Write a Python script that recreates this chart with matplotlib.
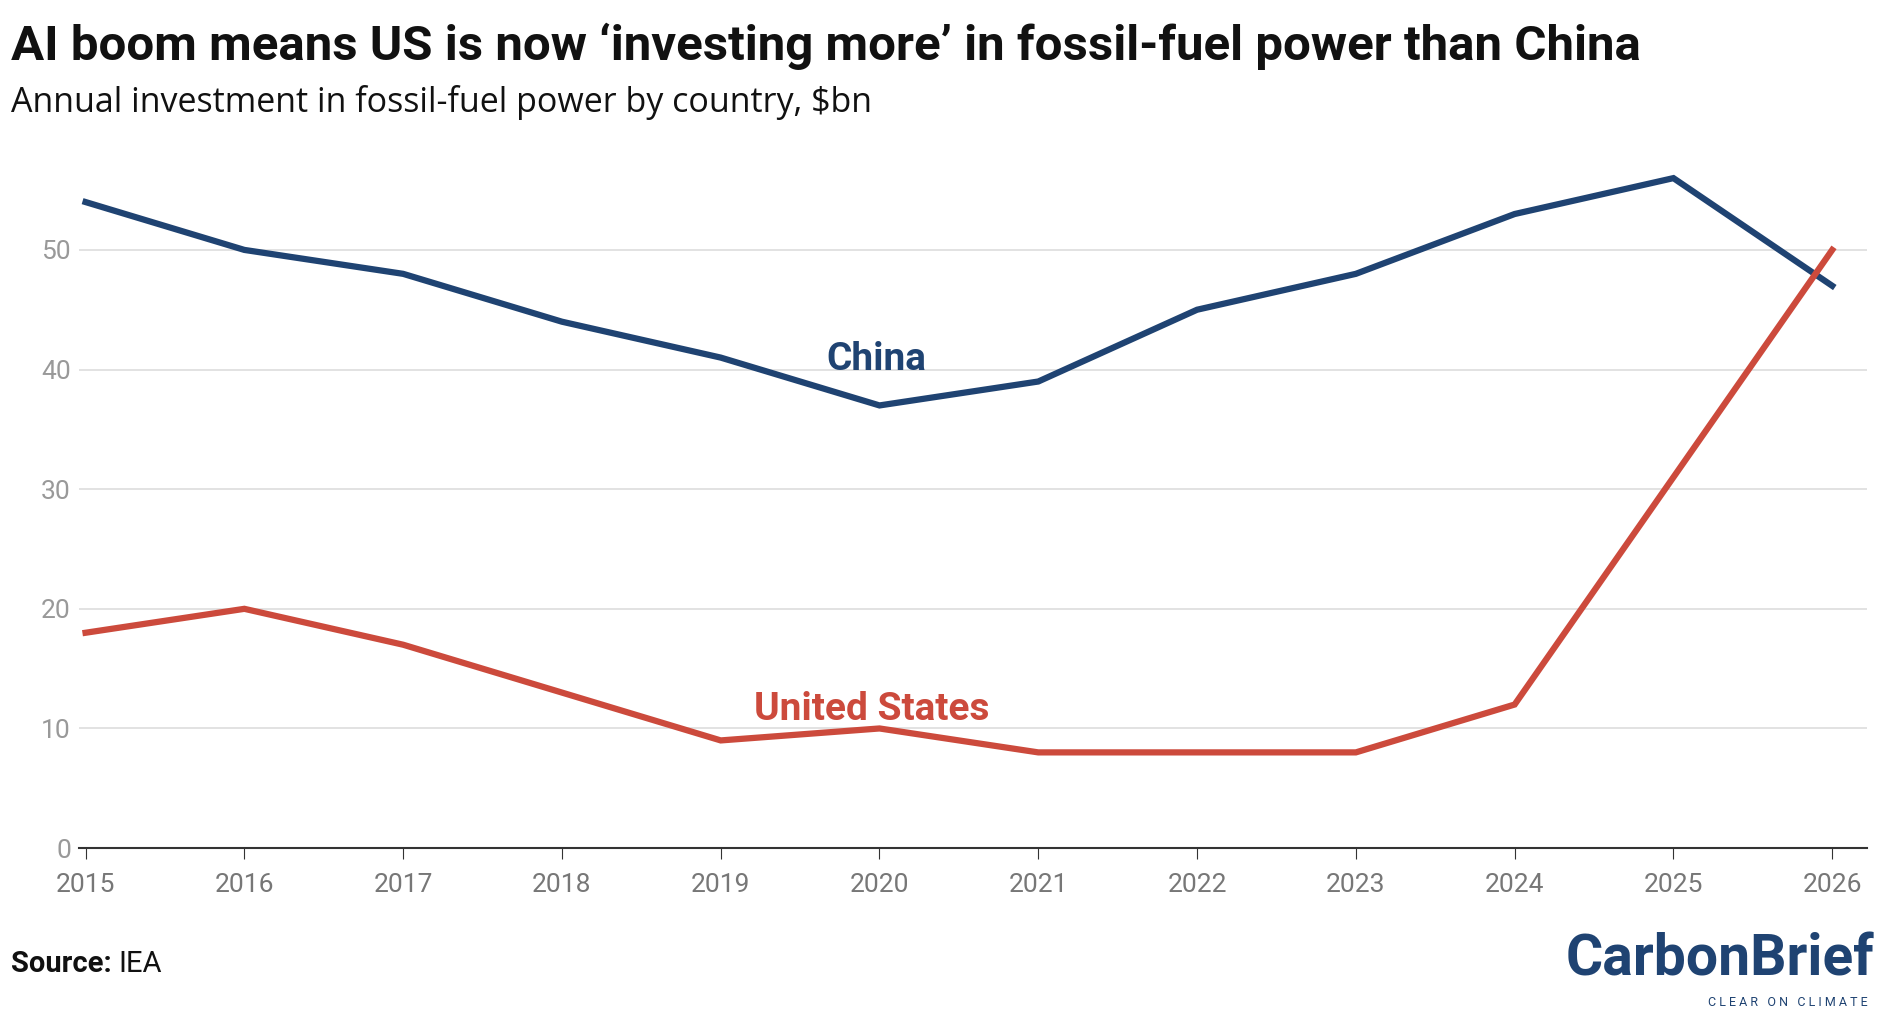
import matplotlib
matplotlib.use("Agg")
import matplotlib.pyplot as plt

years = list(range(2015, 2027))
china = [54, 50, 48, 44, 41, 37, 39, 45, 48, 53, 56, 47]
us = [18, 20, 17, 13, 9, 10, 8, 8, 8, 12, 31, 50]
yticks = [0, 10, 20, 30, 40, 50]

plt.rcParams['font.family'] = ['Roboto', 'DejaVu Sans']
fig = plt.figure(figsize=(18.86, 10.28), dpi=100)
ax = fig.add_axes([0.042, 0.175, 0.948, 0.675])
navy = '#1f4372'; red = '#cc4a3c'
ax.plot(years, china, color=navy, lw=4.5, solid_joinstyle='miter')
ax.plot(years, us, color=red, lw=4.5, solid_joinstyle='miter')
ax.set_xlim(2014.96, 2026.22)
ax.set_ylim(0, 58)
ax.set_yticks(yticks)
ax.set_xticks(years)
ax.grid(axis='y', color='#dddddd', lw=1.2)
ax.set_axisbelow(True)
for s in ['top', 'right', 'left']:
    ax.spines[s].set_visible(False)
ax.spines['bottom'].set_color('#333333')
ax.spines['bottom'].set_linewidth(1.5)
ax.tick_params(axis='y', length=0, labelsize=19, labelcolor='#999999', pad=6)
ax.tick_params(axis='x', length=8, color='#333333', labelsize=19, labelcolor='#777777', pad=10)
ax.text(2019.98, 40, 'China', color=navy, fontsize=28, fontweight='bold', ha='center')
ax.text(2019.95, 10.7, 'United States', color=red, fontsize=28, fontweight='bold', ha='center')
fig.text(0.006, 0.955, 'AI boom means US is now \u2018investing more\u2019 in fossil-fuel power than China',
         fontsize=35.5, fontweight='bold', color='#111111', va='center')
fig.text(0.006, 0.9, 'Annual investment in fossil-fuel power by country, $bn',
         fontsize=24.5, color='#111111', va='center', family=['Open Sans', 'DejaVu Sans'])
t = fig.text(0.006, 0.062, 'Source:', fontsize=21, fontweight='bold', color='#111111', va='center')
fig.text(0.063, 0.062, 'IEA', fontsize=21, color='#111111', va='center')
fig.text(0.994, 0.066, 'CarbonBrief', fontsize=41, fontweight='bold', color=navy, ha='right', va='center')
fig.text(0.99, 0.025, 'C L E A R   O N   C L I M A T E', fontsize=9, color=navy, ha='right', va='center')
fig.savefig('out.png', dpi=100, facecolor='white')
